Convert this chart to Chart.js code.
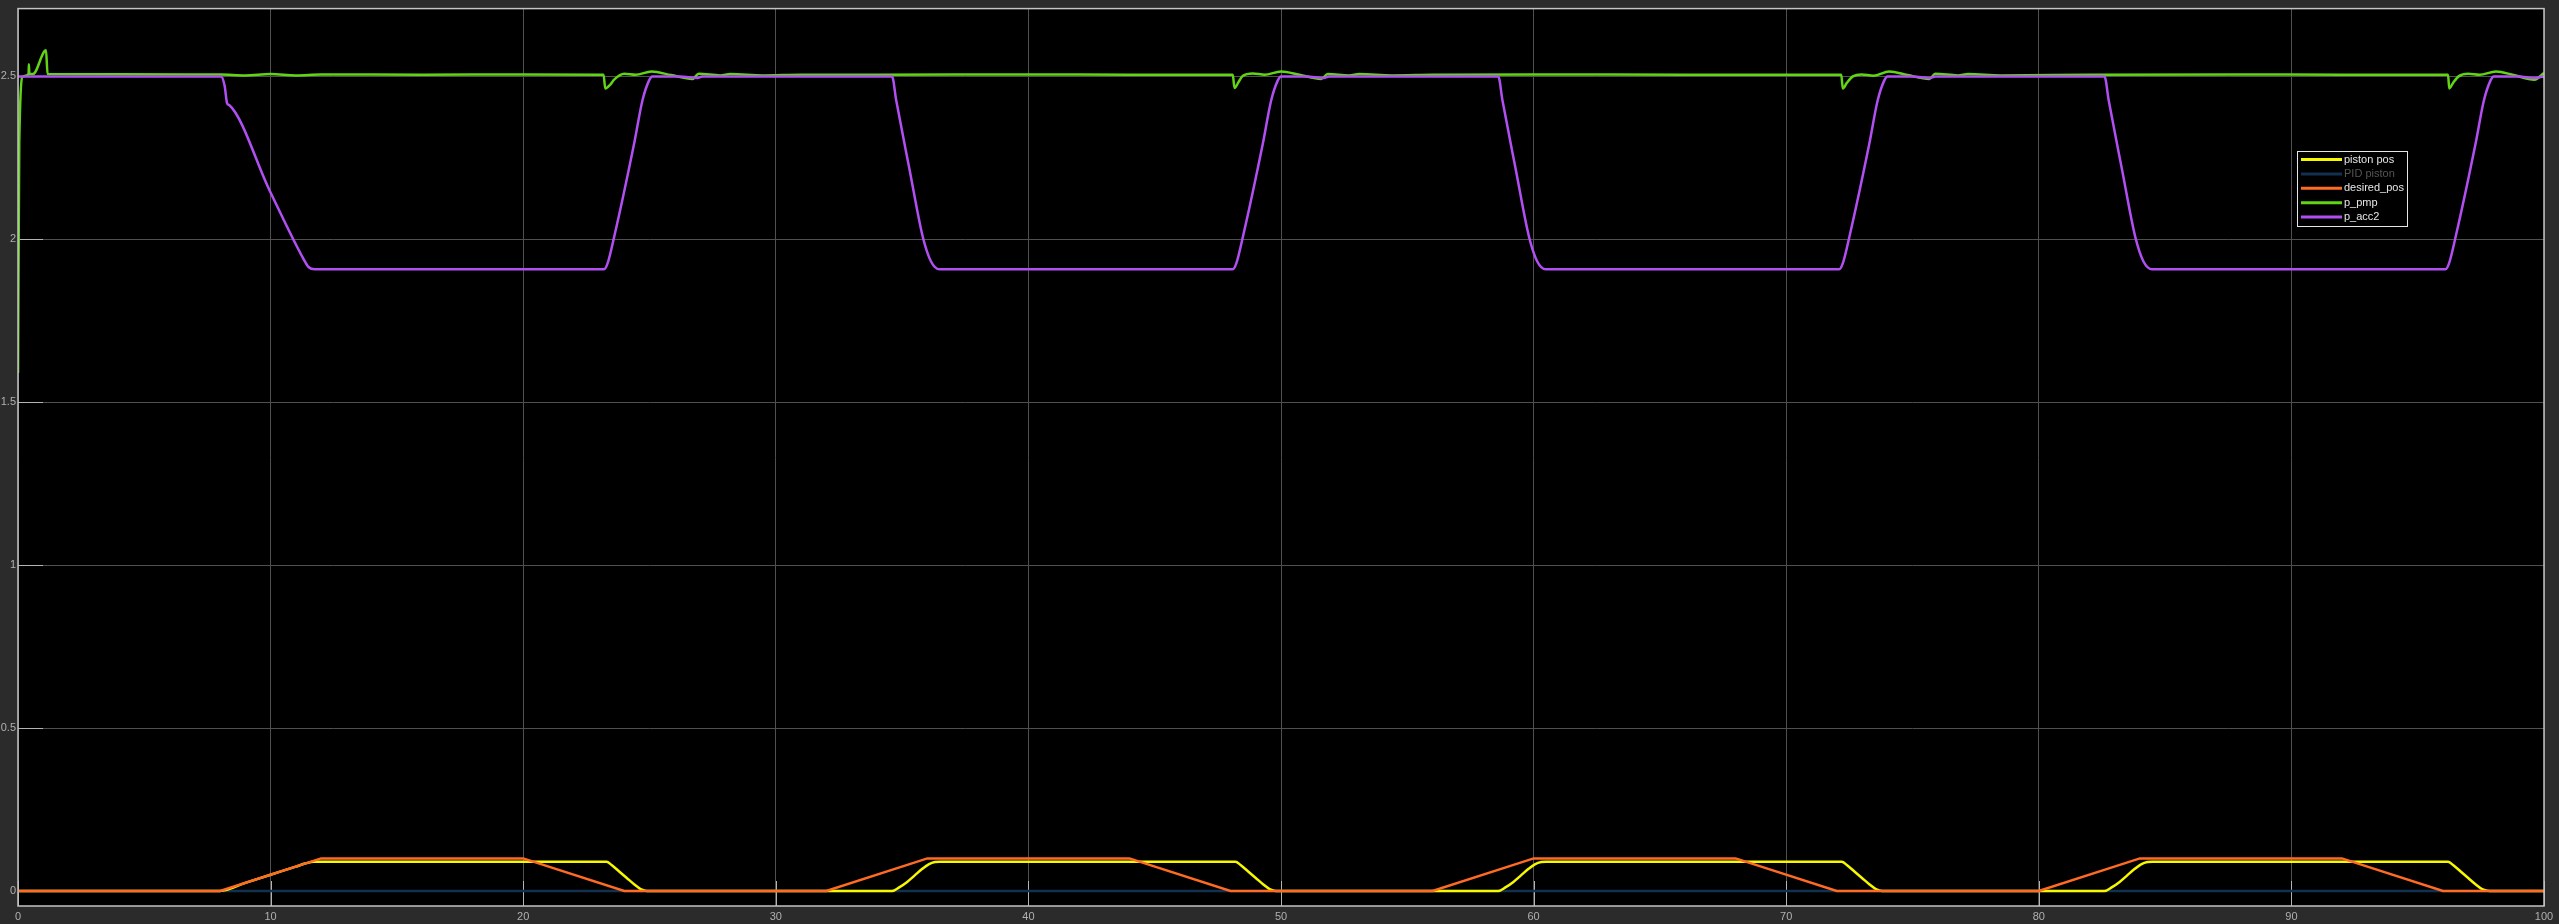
<!DOCTYPE html>
<html>
<head>
<meta charset="utf-8">
<script src="https://cdn.jsdelivr.net/npm/chart.js@4"></script>
<style>
html, body { margin: 0; padding: 0; background: #2b2b2b; }
canvas { display: block; }
</style>
</head>
<body>
<canvas id="scope" width="2559" height="924"></canvas>
<script>
// tick labels
const xTicks = [0, 10, 20, 30, 40, 50, 60, 70, 80, 90, 100];
const yTicks = [0, 0.5, 1, 1.5, 2, 2.5];
const yTickLabels = ['0', '0.5', '1', '1.5', '2', '2.5'];

// series names
const seriesNames = ['piston pos', 'PID piston', 'desired_pos', 'p_pmp', 'p_acc2'];

// piston pos (yellow)
const pistonT = [0, 8, 9, 10, 11, 11.4, 11.7,
  23.3, 23.5, 23.8, 24.1, 24.4, 24.65, 24.9,
  34.6, 34.9, 35.2, 35.5, 35.8, 36.05, 36.3, 36.5,
  48.2, 48.4, 48.7, 49.0, 49.3, 49.55, 49.8,
  58.6, 58.9, 59.2, 59.5, 59.8, 60.05, 60.3, 60.5,
  72.2, 72.4, 72.7, 73.0, 73.3, 73.55, 73.8,
  82.6, 82.9, 83.2, 83.5, 83.8, 84.05, 84.3, 84.5,
  96.2, 96.4, 96.7, 97.0, 97.3, 97.55, 97.85, 100];
const pistonV = [0, 0, 0.025, 0.05, 0.075, 0.085, 0.09,
  0.09, 0.08, 0.06, 0.04, 0.02, 0.006, 0,
  0, 0.012, 0.028, 0.048, 0.068, 0.082, 0.089, 0.09,
  0.09, 0.08, 0.06, 0.04, 0.02, 0.006, 0,
  0, 0.012, 0.028, 0.048, 0.068, 0.082, 0.089, 0.09,
  0.09, 0.08, 0.06, 0.04, 0.02, 0.006, 0,
  0, 0.012, 0.028, 0.048, 0.068, 0.082, 0.089, 0.09,
  0.09, 0.08, 0.06, 0.04, 0.02, 0.006, 0, 0];

// PID piston (hidden under the others)
const pidT = [0, 100];
const pidV = [0, 0];

// desired_pos (orange)
const desiredT = [0, 8, 12, 20, 24, 32, 36, 44, 48, 56, 60, 68, 72, 80, 84, 92, 96, 100];
const desiredV = [0, 0, 0.1, 0.1, 0, 0, 0.1, 0.1, 0, 0, 0.1, 0.1, 0, 0, 0.1, 0.1, 0, 0];

// p_pmp (green)
const pmpT = [0, 0.05, 0.2, 0.42, 0.43, 0.45, 0.59, 1.11, 1.17, 8, 9, 10, 11, 12, 16, 20,
  23.18, 23.25, 23.45, 23.6, 24.0, 24.45, 25.08, 25.85, 26.7, 26.95, 27.8, 28.2, 29.5, 31, 34, 40, 44,
  48.09, 48.16, 48.3, 48.49, 48.88, 49.35, 50.0, 50.73, 51.59, 51.85, 52.7, 53.1, 54.4, 56, 60, 66,
  72.18, 72.24, 72.4, 72.64, 72.98, 73.45, 74.08, 74.8, 75.67, 75.9, 76.8, 77.2, 78.5, 82, 88, 92,
  96.2, 96.25, 96.4, 96.62, 97.0, 97.45, 98.1, 98.8, 99.62, 100];
const pmpV = [1.59, 2.3, 2.5, 2.507, 2.537, 2.507, 2.507, 2.58, 2.507, 2.506, 2.503, 2.507, 2.503, 2.506, 2.505, 2.506,
  2.505, 2.463, 2.475, 2.49, 2.508, 2.505, 2.515, 2.504, 2.492, 2.508, 2.503, 2.507, 2.503, 2.505, 2.505, 2.506, 2.505,
  2.505, 2.464, 2.48, 2.502, 2.509, 2.505, 2.515, 2.505, 2.492, 2.507, 2.503, 2.507, 2.503, 2.505, 2.506, 2.505,
  2.505, 2.463, 2.48, 2.5, 2.506, 2.502, 2.515, 2.504, 2.492, 2.508, 2.503, 2.507, 2.503, 2.505, 2.506, 2.505,
  2.505, 2.463, 2.48, 2.5, 2.508, 2.505, 2.515, 2.504, 2.49, 2.51];

// p_acc2 (purple)
const acc2T = [0, 8.0, 8.04, 8.18, 8.28, 8.36, 9.96, 11.3, 11.5, 11.75,
  23.2, 23.34, 23.6, 24.39, 24.72, 24.98, 25.11, 26.2, 26.9, 27.1,
  34.6, 34.77, 35.29, 35.82, 36.15, 36.48,
  48.09, 48.23, 48.49, 49.28, 49.61, 49.87, 50.0, 51.0, 51.7, 51.9,
  58.6, 58.77, 59.29, 59.82, 60.15, 60.48,
  72.1, 72.24, 72.5, 73.29, 73.62, 73.88, 74.01, 75.0, 75.7, 75.9,
  82.6, 82.77, 83.29, 83.82, 84.15, 84.48,
  96.1, 96.24, 96.5, 97.29, 97.62, 97.88, 98.01, 99.0, 99.6, 100];
const acc2V = [2.5, 2.5, 2.5, 2.471, 2.417, 2.412, 2.15, 1.94, 1.915, 1.908,
  1.908, 1.926, 2.007, 2.293, 2.426, 2.487, 2.5, 2.5, 2.495, 2.5,
  2.5, 2.425, 2.216, 2.007, 1.931, 1.908,
  1.908, 1.926, 2.007, 2.293, 2.426, 2.487, 2.5, 2.5, 2.495, 2.5,
  2.5, 2.425, 2.216, 2.007, 1.931, 1.908,
  1.908, 1.926, 2.007, 2.293, 2.426, 2.487, 2.5, 2.5, 2.495, 2.5,
  2.5, 2.425, 2.216, 2.007, 1.931, 1.908,
  1.908, 1.926, 2.007, 2.293, 2.426, 2.487, 2.5, 2.5, 2.495, 2.5];

function pts(ts, vs) {
  return ts.map((t, i) => ({ x: t, y: vs[i] }));
}

const scopeFrame = {
  id: 'scopeFrame',
  beforeDraw(chart) {
    const { ctx, chartArea: a } = chart;
    ctx.save();
    ctx.fillStyle = '#2b2b2b';
    ctx.fillRect(0, 0, chart.width, chart.height);
    ctx.fillStyle = '#000000';
    ctx.fillRect(a.left, a.top, a.right - a.left, a.bottom - a.top);
    ctx.restore();
  },
  beforeDatasetsDraw(chart) {
    // short light tick marks inside the axes, scope style
    const { ctx, chartArea: a, scales } = chart;
    ctx.save();
    ctx.strokeStyle = '#b4b4b4';
    ctx.lineWidth = 1;
    ctx.beginPath();
    scales.y.ticks.forEach(t => {
      const py = Math.round(scales.y.getPixelForValue(t.value)) + 0.5;
      ctx.moveTo(a.left, py);
      ctx.lineTo(a.left + 25, py);
    });
    scales.x.ticks.forEach(t => {
      const px = Math.round(scales.x.getPixelForValue(t.value)) + 0.5;
      ctx.moveTo(px, a.bottom);
      ctx.lineTo(px, a.bottom - 25);
    });
    ctx.stroke();
    ctx.restore();
  },
  afterDraw(chart) {
    const { ctx, chartArea: a } = chart;
    ctx.save();
    ctx.strokeStyle = '#c4c4c4';
    ctx.lineWidth = 1.5;
    ctx.strokeRect(a.left, a.top, a.right - a.left, a.bottom - a.top);

    // legend box
    const lx = 2297, ly = 151, lw = 110, lh = 75;
    ctx.fillStyle = '#000000';
    ctx.fillRect(lx, ly, lw, lh);
    ctx.strokeStyle = '#e6e6e6';
    ctx.lineWidth = 1;
    ctx.strokeRect(lx + 0.5, ly + 0.5, lw, lh);
    ctx.font = '11px "Liberation Sans", Arial, sans-serif';
    ctx.textBaseline = 'middle';
    chart.data.datasets.forEach((ds, i) => {
      const ry = ly + 8.5 + i * 14.4;
      ctx.strokeStyle = ds.borderColor;
      ctx.lineWidth = 3;
      ctx.beginPath();
      ctx.moveTo(lx + 4, ry);
      ctx.lineTo(lx + 45, ry);
      ctx.stroke();
      ctx.fillStyle = ds.legendTextColor;
      ctx.fillText(ds.label, lx + 47, ry);
    });
    ctx.restore();
  }
};

const lineStyle = { pointRadius: 0, borderWidth: 2.5, fill: false };

new Chart(document.getElementById('scope').getContext('2d'), {
  type: 'line',
  data: {
    datasets: [
      { ...lineStyle, label: seriesNames[0], data: pts(pistonT, pistonV), borderColor: '#f7f700',
        cubicInterpolationMode: 'monotone', order: 3, legendTextColor: '#e6e6e6' },
      { ...lineStyle, label: seriesNames[1], data: pts(pidT, pidV), borderColor: '#12304f',
        order: 4, legendTextColor: '#555555' },
      { ...lineStyle, label: seriesNames[2], data: pts(desiredT, desiredV), borderColor: '#ff6a24',
        tension: 0, order: 2, legendTextColor: '#e6e6e6' },
      { ...lineStyle, label: seriesNames[3], data: pts(pmpT, pmpV), borderColor: '#62d416',
        cubicInterpolationMode: 'monotone', order: 1, legendTextColor: '#e6e6e6' },
      { ...lineStyle, label: seriesNames[4], data: pts(acc2T, acc2V), borderColor: '#b24ff2',
        cubicInterpolationMode: 'monotone', order: 0, legendTextColor: '#e6e6e6' }
    ]
  },
  options: {
    responsive: false,
    animation: false,
    devicePixelRatio: 1,
    layout: { padding: { left: 0, top: 6, right: 15, bottom: 0 } },
    plugins: {
      legend: { display: false },
      tooltip: { enabled: false }
    },
    scales: {
      x: {
        type: 'linear',
        min: 0,
        max: 100,
        afterBuildTicks: s => { s.ticks = xTicks.map(v => ({ value: v })); },
        afterFit: s => { s.height = 18; },
        grid: { color: '#505050', lineWidth: 1, drawTicks: false },
        border: { display: false },
        ticks: {
          color: '#b0b0b0',
          font: { family: '"Liberation Sans", Arial, sans-serif', size: 11 },
          padding: 4,
          maxRotation: 0,
          autoSkip: false,
          callback: v => String(v)
        }
      },
      y: {
        type: 'linear',
        min: -0.046,
        max: 2.708,
        afterBuildTicks: s => { s.ticks = yTicks.map(v => ({ value: v })); },
        afterFit: s => { s.width = 18; },
        grid: { color: '#505050', lineWidth: 1, drawTicks: false },
        border: { display: false },
        ticks: {
          color: '#b0b0b0',
          font: { family: '"Liberation Sans", Arial, sans-serif', size: 11 },
          padding: 2,
          callback: (v, i) => yTickLabels[i]
        }
      }
    }
  },
  plugins: [scopeFrame]
});
</script>
</body>
</html>
